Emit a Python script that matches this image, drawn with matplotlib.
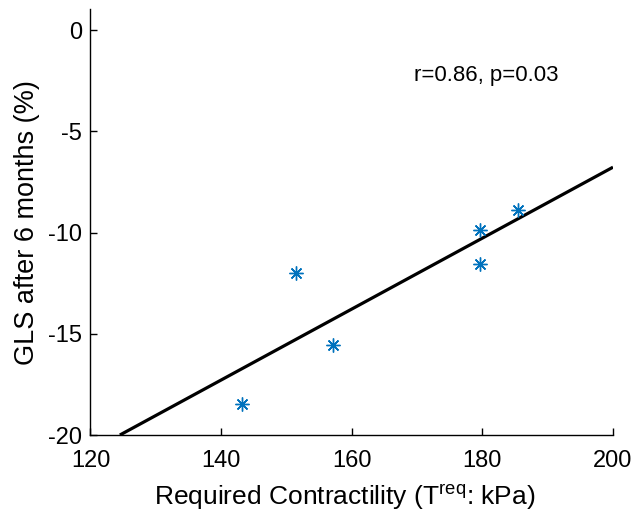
import numpy as np
import matplotlib
matplotlib.use("Agg")
import matplotlib.pyplot as plt

plt.rcParams['font.family'] = ['Liberation Sans', 'DejaVu Sans']
plt.rcParams['axes.unicode_minus'] = False

# Data
contractility = [143.2, 151.5, 157.1, 179.7, 179.7, 185.4]
gls_6m = [-18.48, -12.01, -15.56, -11.55, -9.87, -8.9]
fit_x = [124.5, 200.0]
fit_y = [-20.0, -6.77]
xticks = [120, 140, 160, 180, 200]
yticks = [-20, -15, -10, -5, 0]
annotation = "r=0.86, p=0.03"

fig = plt.figure(figsize=(6.34, 5.15), dpi=100)
ax = fig.add_axes([0.1427, 0.1553, 0.9669 - 0.1427, 0.982 - 0.1553])

ax.plot(fit_x, fit_y, color='black', lw=2.3, solid_capstyle='butt', zorder=2)
ax.plot(contractility, gls_6m, linestyle='none', marker=(8, 2, 0), markersize=10,
        markeredgewidth=1.0, color='#0072BD', zorder=3)

ax.set_xlim(120, 200)
ax.set_ylim(-20, 1.03)
ax.set_xticks(xticks)
ax.set_yticks(yticks)
ax.spines['top'].set_visible(False)
ax.spines['right'].set_visible(False)
for s in ['left', 'bottom']:
    ax.spines[s].set_linewidth(1.0)
ax.tick_params(direction='in', length=5, width=1.0, labelsize=17)
ax.tick_params(axis='x', pad=11)
ax.tick_params(axis='y', pad=6)

ax.text(180.6, -2.25, annotation, ha='center', va='center', fontsize=16)
ax.set_xlabel(r'Required Contractility (T$^{\mathregular{req}}$: kPa)', fontsize=19, labelpad=5)
ax.xaxis.set_label_coords(0.486, -0.11, transform=ax.transAxes)
ax.set_ylabel('GLS after 6 months (%)', fontsize=19.5, labelpad=6)

fig.savefig('out.png', dpi=100)
